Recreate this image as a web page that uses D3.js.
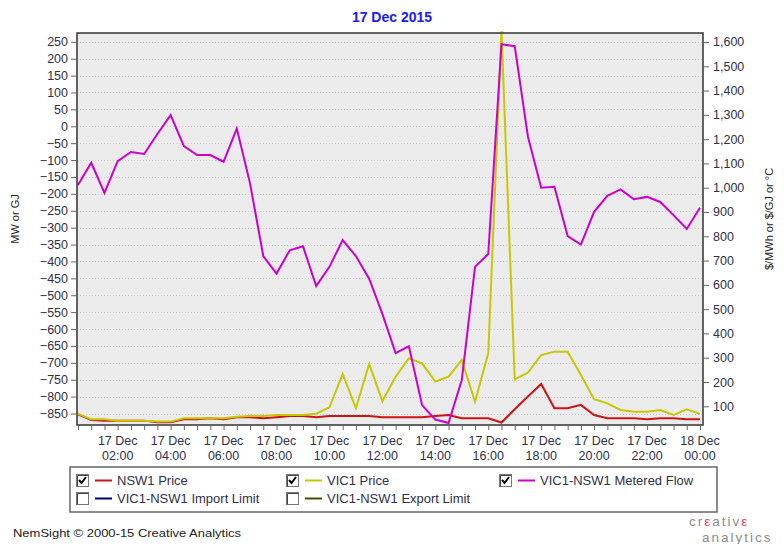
<!DOCTYPE html>
<html>
<head>
<meta charset="utf-8">
<script src="https://cdn.jsdelivr.net/npm/d3@7"></script>
<style>
body{margin:0;background:#fff}
svg text{font-family:"Liberation Sans",Arial,sans-serif}
</style>
</head>
<body>
<svg id="chart" width="784" height="544"></svg>
<script>
// half-hour trading intervals, 17 Dec 2015
const periods = ["00:30","01:00","01:30","02:00","02:30","03:00","03:30","04:00","04:30","05:00","05:30","06:00",
                 "06:30","07:00","07:30","08:00","08:30","09:00","09:30","10:00","10:30","11:00","11:30","12:00",
                 "12:30","13:00","13:30","14:00","14:30","15:00","15:30","16:00","16:30","17:00","17:30","18:00",
                 "18:30","19:00","19:30","20:00","20:30","21:00","21:30","22:00","22:30","23:00","23:30","24:00"]

// $/MWh (right axis)
const nsw1Price = [67,44,41,41,41,41,34,34,47,47,51,47,55,55,51,55,60,60,55,60,60,60,60,55,
                   55,55,55,60,64,51,51,51,33,88,140,192,92,92,106,64,51,51,51,47,51,51,47,47]
const vic1Price = [69,47,47,41,41,41,37,37,51,51,51,51,57,60,60,64,64,64,69,96,233,92,274,121,
                   222,298,277,202,222,291,119,318,1645,211,239,311,325,325,229,129,112,85,78,78,85,64,88,69]
// MW (left axis)
const meteredFlow = [-174,-108,-197,-103,-76,-82,-23,33,-59,-85,-85,-105,-7,-169,-384,-436,-367,-355,-473,-416,-337,-384,-451,-555,
                     -671,-651,-825,-868,-878,-751,-416,-378,243,237,-31,-182,-179,-325,-350,-253,-206,-187,-216,-209,-224,-263,-304,-241]

const leftTicks = [250,200,150,100,50,0,-50,-100,-150,-200,-250,-300,-350,-400,-450,-500,-550,-600,-650,-700,-750,-800,-850]
const rightTicks = [1600,1500,1400,1300,1200,1100,1000,900,800,700,600,500,400,300,200,100]
const labelTimes = ["02:00","04:00","06:00","08:00","10:00","12:00","14:00","16:00","18:00","20:00","22:00","24:00"]

const legendItems = [
    {name:"NSW1 Price", color:"#cc1414", on:true},
    {name:"VIC1 Price", color:"#c8c800", on:true},
    {name:"VIC1-NSW1 Metered Flow", color:"#cc00cc", on:true},
    {name:"VIC1-NSW1 Import Limit", color:"#000070", on:false},
    {name:"VIC1-NSW1 Export Limit", color:"#4a4a00", on:false}
]

const parseT = function(s){ let p = s.split(":").map(Number); return new Date(2015,11,17,p[0],p[1]) }
const dates = periods.map(parseT)

const svg = d3.select("#chart")
const L = 77, R = 703, T = 33, B = 425
const textCol = "#30304a"

let x = d3.scaleTime().domain(d3.extent(dates)).range([78,700])
let yL = d3.scaleLinear().domain([-884,276]).range([B,T])
let yR = d3.scaleLinear().domain([23,1637]).range([B,T])

// title
svg.append("text").attr("x",392).attr("y",22).attr("text-anchor","middle")
    .attr("font-size",14).attr("font-weight","bold").attr("fill","#1a1aff")
    .text("17 Dec 2015")

// plot background
svg.append("rect").attr("x",L).attr("y",T).attr("width",R-L).attr("height",B-T).attr("fill","#ebebeb")

// grid
svg.append("g").selectAll("line").data(leftTicks).enter().append("line")
    .attr("x1",L).attr("x2",R).attr("y1",d=>Math.round(yL(d))+0.5).attr("y2",d=>Math.round(yL(d))+0.5)
    .attr("stroke","#cdcdcd").attr("stroke-dasharray","1,2")

// series
function drawLine(vals, scale, color){
    let line = d3.line().x((d,i)=>x(dates[i])).y(d=>scale(d))
    svg.append("path").datum(vals).attr("d",line)
        .attr("fill","none").attr("stroke",color).attr("stroke-width",2)
}
drawLine(nsw1Price, yR, legendItems[0].color)
drawLine(vic1Price, yR, legendItems[1].color)
drawLine(meteredFlow, yL, legendItems[2].color)

// border
svg.append("rect").attr("x",L).attr("y",T).attr("width",R-L).attr("height",B-T)
    .attr("fill","none").attr("stroke","#333").attr("stroke-width",1.5)

// left axis
let gl = svg.append("g").attr("transform",`translate(${L-1},0)`)
gl.call(d3.axisLeft(yL).tickValues(d3.range(-880,276,10)).tickSize(3).tickFormat(""))
gl.call(d3.axisLeft(yL).tickValues(leftTicks).tickSize(5).tickPadding(3))
gl.select(".domain").remove()
gl.selectAll("text").attr("font-size",12.5).attr("fill",textCol).attr("font-family","Liberation Sans, Arial")
gl.selectAll("line").attr("stroke","#666")

// right axis
let gr = svg.append("g").attr("transform",`translate(${R+1},0)`)
gr.call(d3.axisRight(yR).tickValues(d3.range(40,1637,20)).tickSize(3).tickFormat(""))
gr.call(d3.axisRight(yR).tickValues(rightTicks).tickSize(5).tickPadding(4).tickFormat(d3.format(",")))
gr.select(".domain").remove()
gr.selectAll("text").attr("font-size",12.5).attr("fill",textCol).attr("font-family","Liberation Sans, Arial")
gr.selectAll("line").attr("stroke","#666")

// bottom axis
let gb = svg.append("g").attr("transform",`translate(0,${B+1})`)
gb.call(d3.axisBottom(x).tickValues(dates).tickSize(4).tickFormat(""))
gb.select(".domain").remove()
gb.selectAll("line").attr("stroke","#666")
let fmtDay = d3.timeFormat("%d %b"), fmtHour = d3.timeFormat("%H:%M")
let xl = svg.append("g").selectAll("text").data(labelTimes.map(parseT)).enter().append("text")
    .attr("text-anchor","middle").attr("font-size",12.5).attr("fill",textCol)
xl.append("tspan").attr("x",d=>x(d)).attr("y",445).text(d=>fmtDay(d))
xl.append("tspan").attr("x",d=>x(d)).attr("y",460).text(d=>fmtHour(d))

// axis titles
svg.append("text").attr("transform","translate(19,219) rotate(-90)").attr("text-anchor","middle")
    .attr("font-size",11).attr("fill","#222").text("MW or GJ")
svg.append("text").attr("transform","translate(773,219) rotate(-90)").attr("text-anchor","middle")
    .attr("font-size",11).attr("fill","#222").text("$/MWh or $/GJ or °C")

// legend
svg.append("rect").attr("x",70).attr("y",467).attr("width",647).attr("height",45)
    .attr("fill","#fff").attr("stroke","#666").attr("stroke-width",1.5)
const legPos = [[76,474],[286,474],[499,474],[76,492],[286,492]]
let lg = svg.append("g").selectAll("g").data(legendItems).enter().append("g")
    .attr("transform",(d,i)=>`translate(${legPos[i][0]},${legPos[i][1]})`)
lg.append("rect").attr("x",0.5).attr("y",0.5).attr("width",12).attr("height",12)
    .attr("fill","#fff").attr("stroke","#777")
lg.append("path").attr("d","M1.5,1.5H12.5M1.5,1.5V12.5").attr("stroke","#444").attr("fill","none")
lg.filter(d=>d.on).append("path").attr("d","M3,6 L5.5,9 L10,3").attr("stroke","#000")
    .attr("stroke-width",2).attr("fill","none")
lg.append("line").attr("x1",19).attr("x2",36).attr("y1",6.5).attr("y2",6.5)
    .attr("stroke",d=>d.color).attr("stroke-width",2)
lg.append("text").attr("x",41).attr("y",11).attr("font-size",13).attr("fill",textCol).text(d=>d.name)

// footer
svg.append("text").attr("x",13).attr("y",537).attr("font-size",11.5)
    .attr("font-family","DejaVu Sans").attr("fill","#222")
    .attr("textLength",228).attr("lengthAdjust","spacingAndGlyphs")
    .text("NemSight © 2000-15 Creative Analytics")
// logo
let logo1 = svg.append("text").attr("x",689).attr("y",526).attr("font-size",13.5)
    .attr("letter-spacing",2).attr("font-family","DejaVu Sans").attr("fill","#8c8c8c")
logo1.append("tspan").text("cr")
logo1.append("tspan").attr("fill","#e03c5a").text("ε")
logo1.append("tspan").text("ativ")
logo1.append("tspan").attr("fill","#e03c5a").text("ε")
svg.append("text").attr("x",702).attr("y",542).attr("font-size",13.5).attr("letter-spacing",2)
    .attr("font-family","DejaVu Sans").attr("fill","#8c8c8c").text("analytics")
</script>
</body>
</html>
